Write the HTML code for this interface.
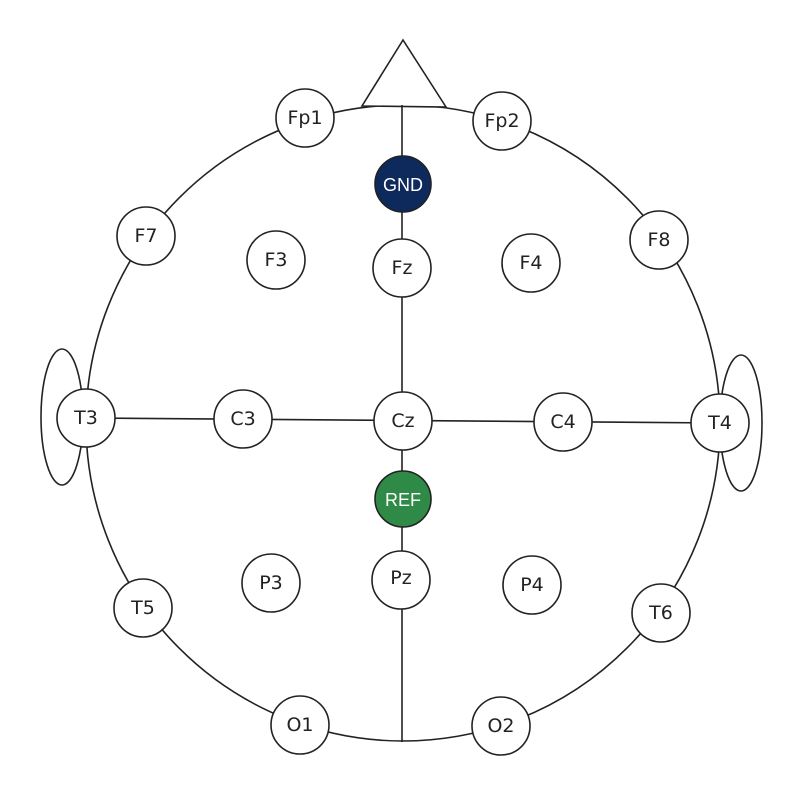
<!DOCTYPE html>
<html><head><style>body{margin:0;background:#fff}svg{display:block}</style></head><body>
<svg width="800" height="800" viewBox="0 0 800 800" xmlns="http://www.w3.org/2000/svg" font-family="'DejaVu Sans','Liberation Sans',sans-serif" font-size="19">
<g fill="none" stroke="#222" stroke-width="1.6">
<ellipse cx="62" cy="417" rx="21" ry="68" fill="#fff"/>
<ellipse cx="741" cy="423" rx="21" ry="68" fill="#fff"/>
<ellipse cx="403" cy="423" rx="317" ry="318"/>
<polygon points="403,40 362,106 446,107" fill="#fff"/>
<line x1="402" y1="105" x2="402" y2="742"/>
<line x1="86" y1="418" x2="720" y2="423"/>
</g>
<g stroke="#222" stroke-width="1.6" fill="#fff">
<circle cx="305" cy="118" r="29"/><circle cx="502" cy="121" r="29"/>
<circle cx="146" cy="236" r="29"/><circle cx="276" cy="260" r="29"/>
<circle cx="402" cy="268" r="29"/><circle cx="531" cy="263" r="29"/>
<circle cx="659" cy="240" r="29"/><circle cx="86" cy="418" r="29"/>
<circle cx="243" cy="419" r="29"/><circle cx="403" cy="421" r="29"/>
<circle cx="563" cy="422" r="29"/><circle cx="720" cy="423" r="29"/>
<circle cx="143" cy="608" r="29"/><circle cx="271" cy="583" r="29"/>
<circle cx="401" cy="580" r="29"/><circle cx="532" cy="585" r="29"/>
<circle cx="661" cy="613" r="29"/><circle cx="300" cy="725" r="29"/>
<circle cx="501" cy="726" r="29"/>
<circle cx="403" cy="184" r="28" fill="#0e2a5c"/>
<circle cx="403" cy="499" r="28" fill="#2e8a46"/>
</g>
<g fill="#222" text-anchor="middle" dominant-baseline="central">
<text x="305" y="118">Fp1</text><text x="502" y="121">Fp2</text>
<text x="146" y="236">F7</text><text x="276" y="260">F3</text>
<text x="402" y="268">Fz</text><text x="531" y="263">F4</text>
<text x="659" y="240">F8</text><text x="86" y="418">T3</text>
<text x="243" y="419">C3</text><text x="403" y="421">Cz</text>
<text x="563" y="422">C4</text><text x="720" y="423">T4</text>
<text x="143" y="608">T5</text><text x="271" y="583">P3</text>
<text x="401" y="578">Pz</text><text x="532" y="585">P4</text>
<text x="661" y="613">T6</text><text x="300" y="725">O1</text>
<text x="501" y="726">O2</text>
<text x="403" y="185" fill="#fff" font-size="18" font-family="'Liberation Sans',sans-serif">GND</text>
<text x="403" y="500" fill="#fff" font-size="18" font-family="'Liberation Sans',sans-serif">REF</text>
</g>
</svg>
</body></html>
